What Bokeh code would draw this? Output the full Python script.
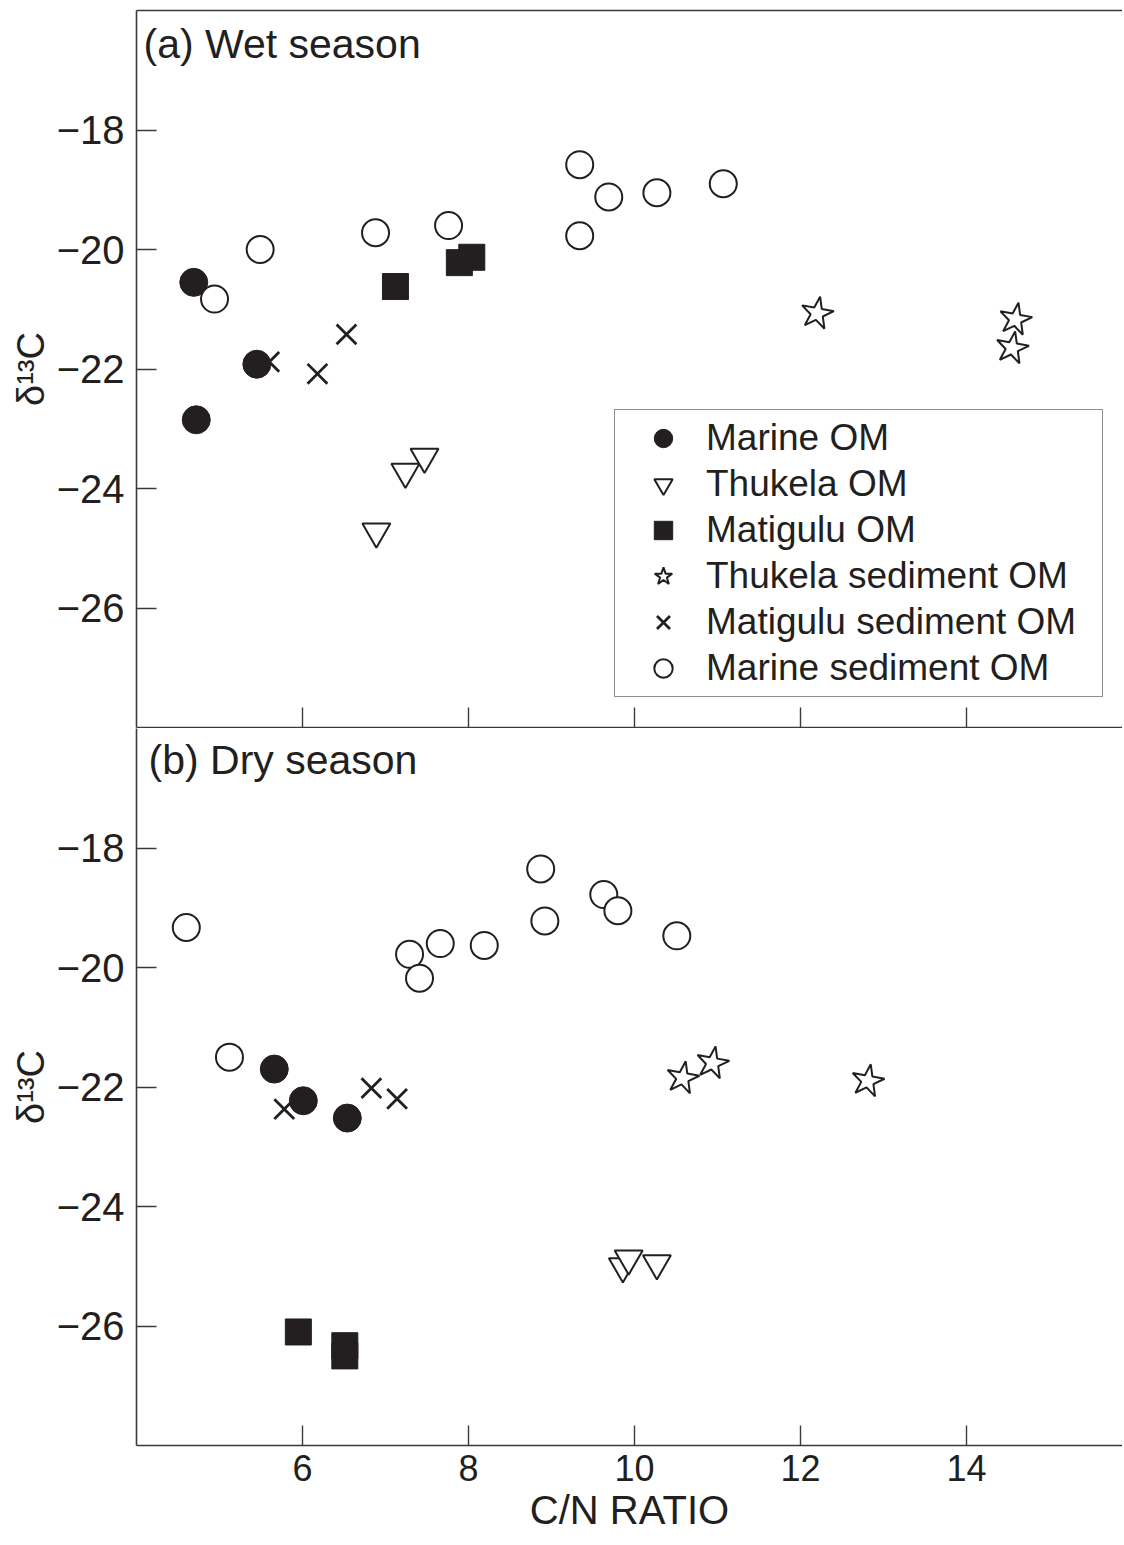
from bokeh.plotting import figure
from bokeh.layouts import column
from bokeh.models import Range1d, FixedTicker, LinearAxis, Label, Legend, LegendItem
from bokeh.embed import file_html
from bokeh.resources import INLINE

# ---------------- data ----------------
series_names = ["Marine OM", "Thukela OM", "Matigulu OM",
                "Thukela sediment OM", "Matigulu sediment OM", "Marine sediment OM"]

x_ticks = [6, 8, 10, 12, 14]
y_ticks = [-18, -20, -22, -24, -26]
y_tick_labels = ["\u221218", "\u221220", "\u221222", "\u221224", "\u221226"]

# (a) wet season
wet_marine_om_x = [4.69, 5.45, 4.72]
wet_marine_om_y = [-20.55, -21.92, -22.85]
wet_thukela_om_x = [6.89, 7.24, 7.47]
wet_thukela_om_y = [-24.72, -23.72, -23.47]
wet_matigulu_om_x = [7.12, 7.89, 8.04]
wet_matigulu_om_y = [-20.62, -20.22, -20.13]
wet_thukela_sed_x = [12.20, 14.59, 14.55]
wet_thukela_sed_y = [-21.07, -21.17, -21.65]
wet_matigulu_sed_x = [5.60, 6.18, 6.53]
wet_matigulu_sed_y = [-21.88, -22.08, -21.42]
wet_marine_sed_x = [4.94, 5.49, 6.88, 7.76, 9.34, 9.69, 10.27, 11.07, 9.34]
wet_marine_sed_y = [-20.83, -20.00, -19.72, -19.60, -18.58, -19.12, -19.05, -18.90, -19.77]

# (b) dry season
dry_marine_om_x = [5.66, 6.01, 6.54]
dry_marine_om_y = [-21.70, -22.23, -22.52]
dry_thukela_om_x = [9.86, 9.93, 10.27]
dry_thukela_om_y = [-25.00, -24.87, -24.95]
dry_matigulu_om_x = [5.95, 6.51, 6.51]
dry_matigulu_om_y = [-26.10, -26.33, -26.50]
dry_thukela_sed_x = [10.58, 10.94, 12.81]
dry_thukela_sed_y = [-21.85, -21.60, -21.90]
dry_matigulu_sed_x = [5.78, 6.83, 7.14]
dry_matigulu_sed_y = [-22.37, -22.02, -22.20]
dry_marine_sed_x = [4.60, 5.12, 7.29, 7.41, 7.66, 8.19, 8.87, 8.92, 9.63, 9.80, 10.51]
dry_marine_sed_y = [-19.33, -21.50, -19.78, -20.18, -19.60, -19.63, -18.35, -19.22, -18.78, -19.05, -19.47]

# ---------------- style ----------------
INK = "#231f20"
AX = "#3a3a3a"
FONT = "Liberation Sans"

xr = Range1d(4.0, 15.88)


def base_fig(frame_h, top, bottom):
    p = figure(frame_width=986, frame_height=frame_h, x_range=xr,
               y_range=Range1d(-28, -16), output_backend="svg",
               toolbar_location=None, min_border_left=136, min_border_right=0,
               min_border_top=top, min_border_bottom=bottom,
               background_fill_color="white", border_fill_color="white")
    p.outline_line_color = None
    p.grid.grid_line_color = None
    for ax in (p.xaxis[0], p.yaxis[0]):
        ax.axis_line_color = AX
        ax.axis_line_width = 1.6
        ax.major_tick_line_color = AX
        ax.major_tick_line_width = 1.4
        ax.major_tick_in = 20
        ax.major_tick_out = 0
        ax.minor_tick_line_color = None
        ax.major_label_text_color = INK
    p.xaxis[0].ticker = FixedTicker(ticks=x_ticks)
    yax = p.yaxis[0]
    yax.ticker = FixedTicker(ticks=y_ticks)
    yax.major_label_overrides = dict(zip(y_ticks, y_tick_labels))
    yax.major_label_text_font = FONT
    yax.major_label_text_font_size = "40px"
    yax.major_label_standoff = 12
    yax.axis_label = "\u03b4\u00b9\u00b3C"
    yax.axis_label_text_font = FONT
    yax.axis_label_text_font_size = "38px"
    yax.axis_label_text_font_style = "normal"
    yax.axis_label_text_color = INK
    yax.axis_label_standoff = 2
    return p


def draw(p, mx, my, tx, ty, qx, qy, sx, sy, xx, xy, ox, oy):
    r_x = p.scatter(xx, xy, marker="x", size=28, line_color=INK, line_width=2.8)
    r_mo = p.scatter(mx, my, marker="circle", size=28, fill_color=INK, line_color=INK)
    r_o = p.scatter(ox, oy, marker="circle", size=27, fill_color="white",
                    line_color=INK, line_width=2)
    r_t = p.scatter(tx, ty, marker="inverted_triangle", size=28, fill_color="white",
                    line_color=INK, line_width=2)
    r_q = p.scatter(qx, qy, marker="square", size=26, fill_color=INK, line_color=INK)
    r_s = p.scatter(sx, sy, marker="star", size=34, angle=-0.18, fill_color="white",
                    line_color=INK, line_width=2)
    return [r_mo, r_t, r_q, r_s, r_x, r_o]


# ---------------- panel (a) ----------------
pa = base_fig(717, 10, 1)
pa.xaxis[0].major_label_text_color = None
pa.xaxis[0].major_label_standoff = 0
top_ax = LinearAxis(ticker=FixedTicker(ticks=[]), axis_line_color=AX, axis_line_width=1.6,
                    major_tick_in=0, major_tick_out=0, minor_tick_line_color=None,
                    major_label_text_color=None, major_label_standoff=0)
pa.add_layout(top_ax, "above")

ra = draw(pa, wet_marine_om_x, wet_marine_om_y, wet_thukela_om_x, wet_thukela_om_y,
          wet_matigulu_om_x, wet_matigulu_om_y, wet_thukela_sed_x, wet_thukela_sed_y,
          wet_matigulu_sed_x, wet_matigulu_sed_y, wet_marine_sed_x, wet_marine_sed_y)

pa.add_layout(Label(x=4.084, y=-16.18, text="(a) Wet season", text_font=FONT,
                    text_font_size="41px", text_color=INK, text_baseline="top"))

legend = Legend(items=[LegendItem(label=n, renderers=[r]) for n, r in zip(series_names, ra)],
                location=(478, 30), orientation="vertical",
                glyph_width=86, glyph_height=46, spacing=0, padding=5,
                label_standoff=0, label_width=391, margin=0,
                label_text_font=FONT, label_text_font_size="37px", label_text_color=INK,
                border_line_color=INK, border_line_width=1.6,
                background_fill_color="white", background_fill_alpha=1.0)
pa.add_layout(legend)

# ---------------- panel (b) ----------------
pb = base_fig(717, 0, 0)
xb = pb.xaxis[0]
xb.major_label_text_font = FONT
xb.major_label_text_font_size = "36px"
xb.major_label_standoff = 9
xb.axis_label = "C/N RATIO"
xb.axis_label_text_font = FONT
xb.axis_label_text_font_size = "40px"
xb.axis_label_text_font_style = "normal"
xb.axis_label_text_color = INK
xb.axis_label_standoff = 4

draw(pb, dry_marine_om_x, dry_marine_om_y, dry_thukela_om_x, dry_thukela_om_y,
     dry_matigulu_om_x, dry_matigulu_om_y, dry_thukela_sed_x, dry_thukela_sed_y,
     dry_matigulu_sed_x, dry_matigulu_sed_y, dry_marine_sed_x, dry_marine_sed_y)

pb.add_layout(Label(x=4.145, y=-16.14, text="(b) Dry season", text_font=FONT,
                    text_font_size="41px", text_color=INK, text_baseline="top"))

layout = column(pa, pb, spacing=0)
open("out.html", "w").write(file_html(layout, INLINE))
